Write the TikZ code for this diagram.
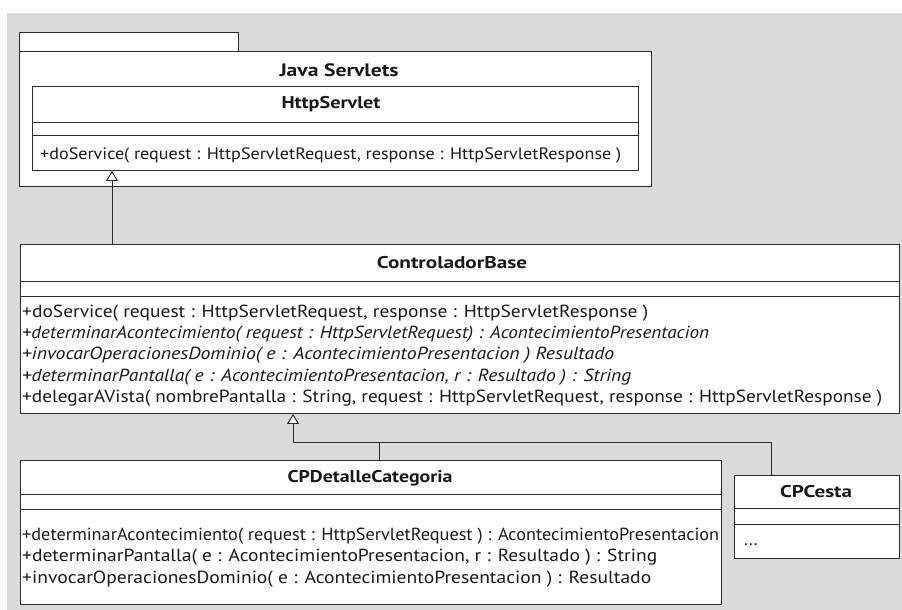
\documentclass[tikz,border=0pt]{standalone}
\usepackage{fontspec}
\setmainfont{PT Sans}
\usepackage{graphicx}
\usetikzlibrary{arrows.meta}
\definecolor{bggray}{HTML}{DADADA}
\definecolor{umlline}{HTML}{2B2B2B}
% squeeze a line of text to a given width, keeping its height
\newcommand{\fitto}[2]{\resizebox{#1pt}{\height}{#2}}

\begin{document}
\begin{tikzpicture}[x=1pt, y=-1pt,
    box/.style={draw=umlline, fill=white, line width=0.95pt, inner sep=0pt, anchor=north west},
    cname/.style={inner sep=0pt, text=black!90, font=\bfseries\fontsize{17}{17}\selectfont},
    oper/.style={anchor=base west, inner sep=0pt, text=black!90, font=\fontsize{17.5}{17.5}\selectfont},
    gen/.style={draw=umlline, line width=0.95pt, -{Triangle[length=10pt, width=12pt, fill=white]}}]
    \useasboundingbox (0,0) rectangle (902,610);
    \fill[bggray] (7,13) rectangle (902,610);

    % package
    \node[box, minimum width=219pt, minimum height=19pt]  (tab) at (19,32) {};
    \node[box, minimum width=632pt, minimum height=135pt] (pkg) at (19,51) {};
    \node[cname, font=\bfseries\fontsize{18}{18}\selectfont] (pkgName) at (339,70) {\fitto{119}{Java Servlets}};

    % HttpServlet
    \node[box, minimum width=606pt, minimum height=36pt] (httpName) at (32,86)  {};
    \node[box, minimum width=606pt, minimum height=13pt] (httpAttr) at (32,122) {};
    \node[box, minimum width=606pt, minimum height=35pt] (httpOps)  at (32,135) {};
    \node[cname] (httpTitle) at (331,104) {\fitto{99}{HttpServlet}};
    \node[oper, font=\fontsize{16.5}{16.5}\selectfont] (httpOp1) at (40,159)
        {\fitto{581}{+doService( request : HttpServletRequest, response : HttpServletResponse )}};

    % ControladorBase
    \node[box, minimum width=879pt, minimum height=37pt]  (cbName) at (20,244) {};
    \node[box, minimum width=879pt, minimum height=15pt]  (cbAttr) at (20,281) {};
    \node[box, minimum width=879pt, minimum height=117pt] (cbOps)  at (20,296) {};
    \node[cname] (cbTitle) at (452,263) {\fitto{150}{ControladorBase}};
    \node[oper] (cbOp1) at (22,317) {\fitto{626}{+doService( request : HttpServletRequest, response : HttpServletResponse )}};
    \node[oper] (cbOp2) at (22,338) {\fitto{687}{\itshape +determinarAcontecimiento( request : HttpServletRequest) : AcontecimientoPresentacion}};
    \node[oper] (cbOp3) at (22,359) {\fitto{592}{\itshape +invocarOperacionesDominio( e : AcontecimientoPresentacion ) Resultado}};
    \node[oper] (cbOp4) at (22,381) {\fitto{609}{\itshape +determinarPantalla( e : AcontecimientoPresentacion, r : Resultado ) : String}};
    \node[oper] (cbOp5) at (22,402) {\fitto{860}{+delegarAVista( nombrePantalla : String, request : HttpServletRequest, response : HttpServletResponse )}};

    % CPDetalleCategoria
    \node[box, minimum width=701pt, minimum height=34pt] (cpdName) at (20,460) {};
    \node[box, minimum width=701pt, minimum height=15pt] (cpdAttr) at (20,494) {};
    \node[box, minimum width=701pt, minimum height=95pt] (cpdOps)  at (20,509) {};
    \node[cname] (cpdTitle) at (370,478) {\fitto{165}{CPDetalleCategoria}};
    \node[oper] (cpdOp1) at (22,540) {\fitto{697}{+determinarAcontecimiento( request : HttpServletRequest ) : AcontecimientoPresentacion}};
    \node[oper] (cpdOp2) at (22,561) {\fitto{635}{+determinarPantalla( e : AcontecimientoPresentacion, r : Resultado ) : String}};
    \node[oper] (cpdOp3) at (22,583) {\fitto{629}{+invocarOperacionesDominio( e : AcontecimientoPresentacion ) : Resultado}};

    % CPCesta
    \node[box, minimum width=165pt, minimum height=33pt] (cpcName) at (734,475) {};
    \node[box, minimum width=165pt, minimum height=16pt] (cpcAttr) at (734,508) {};
    \node[box, minimum width=165pt, minimum height=34pt] (cpcOps)  at (734,524) {};
    \node[cname] (cpcTitle) at (816,492) {\fitto{72}{CPCesta}};
    \node[oper] (cpcOp1) at (744,545) {...};

    % generalizations
    \coordinate (up1) at (112,244);
    \coordinate (j1) at (293,442);
    \coordinate (j2) at (379,442);
    \coordinate (j3) at (771,442);
    \draw[gen] (up1) -- (up1 |- httpOps.south);
    \draw[gen] (j2 |- cpdName.north) -- (j2) -- (j1) -- (j1 |- cbOps.south);
    \draw[draw=umlline, line width=0.95pt] (j3 |- cpcName.north) -- (j3) -- (j2);
\end{tikzpicture}
\end{document}
